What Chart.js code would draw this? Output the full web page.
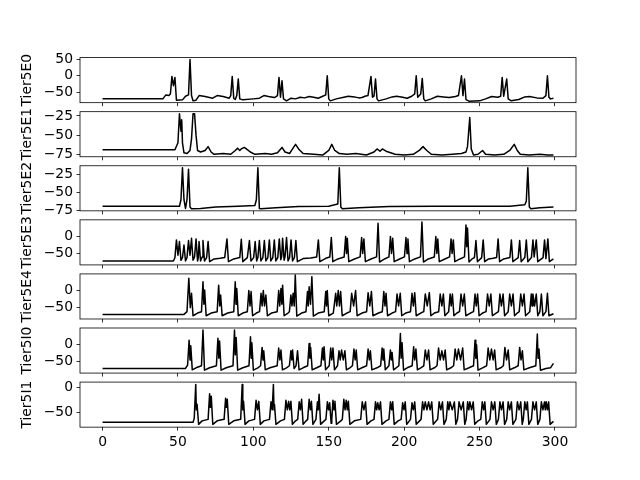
<!DOCTYPE html>
<html><head><meta charset="utf-8">
<script src="https://cdn.jsdelivr.net/npm/chart.js@4"></script>
<style>
html,body{margin:0;padding:0;background:#fff;width:640px;height:480px;overflow:hidden}
canvas{position:absolute;left:0;top:0}
</style></head>
<body>
<div id="wrap"></div>
<script>
// ---------- data ----------
const seriesNames = ["Tier5E0","Tier5E1","Tier5E2","Tier5E3","Tier5E4","Tier5I0","Tier5I1"];
const xTicks = [0,50,100,150,200,250,300];
const yTicksE0 = [-50,0,50];
const yTicksE1 = [-75,-50,-25];
const yTicksE2 = [-75,-50,-25];
const yTicksE3 = [-50,0];
const yTicksE4 = [-50,0];
const yTicksI0 = [-50,0];
const yTicksI1 = [-50,0];
const yLimE0 = [-81.5,55];
const yLimE1 = [-78.2,-19.4];
const yLimE2 = [-75.3,-13.2];
const yLimE3 = [-83.5,49];
const yLimE4 = [-83.5,49];
const yLimI0 = [-83.5,49];
const yLimI1 = [-79.6,10.6];

const tier5E0 = [[0,-70],[40,-70],[42,-58],[44,-60],[45,-55],[46,-2],[47,-30],[48,-5],[49,-74],[53,-73],[55,-62],[57,-58],[58,49],[59,-60],[60,-76],[62,-74],[64,-60],[68,-63],[73,-68],[76,-60],[80,-63],[84,-68],[85,-60],[86,-2],[87,-68],[88,-72],[89,-60],[90,-10],[91,-70],[93,-73],[100,-70],[104,-68],[107,-60],[110,-63],[114,-66],[116,-60],[117,-5],[118,-65],[119,-15],[120,-70],[122,-76],[125,-68],[128,-70],[131,-65],[134,-67],[137,-63],[140,-65],[143,-68],[146,-62],[148,-58],[149,0],[150,-70],[151,-76],[155,-70],[160,-65],[163,-62],[167,-64],[170,-67],[172,-66],[174,-62],[176,-60],[178,-2],[179,-65],[180,-62],[181,-10],[182,-70],[183,-76],[188,-70],[192,-64],[195,-62],[199,-65],[202,-68],[205,-62],[207,-55],[208,0],[209,-65],[211,-55],[212,-8],[213,-70],[214,-76],[218,-70],[222,-62],[226,-64],[230,-66],[234,-63],[236,-60],[238,0],[239,-60],[240,-10],[241,-72],[243,-77],[250,-76],[254,-70],[258,-63],[262,-65],[264,-62],[265,-5],[266,-62],[268,-10],[269,-70],[271,-76],[276,-72],[280,-64],[283,-63],[288,-67],[292,-68],[294,-60],[295,0],[296,-65],[297,-70],[299,-68]];

const tier5E1 = [[0,-69],[48,-69],[50,-60],[51,-22],[52,-45],[52.5,-30],[53,-60],[54,-73],[56,-74],[58,-70],[59,-55],[60,-22],[61,-22],[62,-50],[63,-70],[65,-72],[68,-70],[70,-65],[72,-72],[74,-75],[80,-74],[85,-75],[88,-70],[89.5,-67],[91,-70],[92,-68],[94,-66],[96,-69],[98,-72],[101,-75],[108,-74],[112,-75],[116,-73],[119,-66],[121,-72],[124,-74],[126,-68],[128,-62],[130,-68],[133,-74],[140,-75],[146,-76],[150,-70],[152,-62],[154,-70],[157,-74],[162,-75],[168,-74],[175,-76],[180,-72],[182,-68],[184,-71],[185.5,-68],[188,-71],[194,-75],[200,-76],[206,-75],[210,-70],[212.5,-65],[215,-70],[218,-75],[225,-76],[232,-75],[238,-74],[241,-72],[242,-65],[243.5,-27],[244.5,-68],[246,-76],[249,-75],[252,-70],[254,-75],[260,-76],[266,-75],[270,-70],[273,-62],[275,-70],[277,-75],[283,-76],[290,-75],[295,-76],[299,-76]];

const tier5E2 = [[0,-69],[51,-69],[52,-60],[53,-16],[54,-60],[55,-72],[56,-60],[57,-18],[58,-70],[59,-72.5],[65,-72],[75,-70],[90,-69],[101,-68],[102,-60],[103,-16],[104,-72],[105,-72.5],[115,-71],[130,-69.5],[150,-69],[156,-66],[157,-16],[158,-70],[159,-72.5],[170,-71],[190,-69.5],[220,-69],[270,-69],[280,-67],[281,-62],[282,-16],[283,-70],[284,-72.5],[290,-71],[299,-70]];

const tier5E3 = [[0,-72],[47,-72],[48,-62],[49,-10],[50,-55],[51,-15],[52,-70],[53,-62],[54,-25],[55,-72],[56,-62],[57,-12],[58,-55],[59,-5],[60,-70],[61,-60],[62,-7],[63,-72],[63.5,-62],[64,-15],[65,-72],[66,-60],[66.6,-12],[67.6,-72],[69,-62],[70,-15],[71,-74],[74,-66],[78,-64],[81,-62],[82.5,-7],[83.5,-74],[87,-66],[91,-62],[92,-8],[93,-74],[96,-62],[97.4,-12],[98.4,-72],[100.2,-62],[101.2,-15],[102.2,-72],[103,-62],[104,-12],[105,-72],[106.3,-62],[107.3,-12],[108.3,-72],[109.6,-62],[110.6,-10],[111.6,-72],[112.9,-62],[113.9,-10],[114.9,-72],[116.2,-62],[117.2,-7],[118.2,-68],[118.8,-58],[119.4,-5],[120.4,-70],[121,-60],[122,-3],[123,-72],[124,-62],[125,-10],[126,-72],[127.2,-62],[128.2,-12],[129.2,-74],[133,-65],[138,-63],[142,-60],[143.1,-10],[144.1,-74],[148,-64],[150.7,-60],[151.7,-3],[152.7,-74],[156,-66],[160.2,-60],[161.2,0],[161.8,-50],[162.3,-5],[163.3,-74],[167,-66],[170.8,-60],[171.8,-3],[172.5,-50],[173.3,-7],[174.3,-74],[178,-66],[181.7,-60],[182.7,39],[183.7,-75],[187,-66],[189.9,-60],[190.9,0],[191.6,-50],[192.4,-5],[193.4,-74],[197,-66],[200.2,-60],[201.2,-3],[201.9,-50],[202.5,-7],[203.5,-74],[207,-66],[210.8,-60],[211.8,43],[212.8,-75],[216,-66],[220,-60],[221,0],[221.7,-50],[222.3,-7],[223.3,-74],[227,-66],[230.1,-60],[231.1,-7],[231.8,-50],[232.6,-10],[233.6,-74],[237,-66],[240,-60],[241,34],[241.5,-30],[242,25],[243,-75],[245,-66],[246.6,-62],[247.6,-12],[248.6,-74],[251.4,-62],[252.4,-10],[253.4,-74],[256,-66],[259,-64],[261.3,-62],[262.3,-7],[263.3,-74],[266,-66],[270.1,-62],[271.1,-10],[272.1,-74],[275.6,-62],[276.6,-12],[277.6,-74],[280,-62],[281,-10],[282,-74],[284.4,-62],[285.4,-10],[286.2,-60],[287.6,-10],[288.6,-74],[292.1,-62],[293.1,-10],[294,-65],[295.3,-7],[296.3,-74],[299,-66]];

const tier5E4 = [[0,-70],[54,-70],[56,-62],[57.2,36],[58.2,-50],[59,-8],[60,-74],[63,-66],[65.6,-62],[66.6,26],[67.2,-40],[67.7,1.5],[68.7,-74],[72,-66],[76,-62],[77,16],[77.7,-45],[78.3,-13],[79.3,-74],[83,-66],[87,-62],[88,26],[88.5,-40],[89,6],[90,-74],[93,-66],[96,-62],[97,0],[97.8,-45],[98.5,-3],[99.5,-74],[102,-66],[104.1,-62],[105.1,-8],[105.8,-45],[106.6,0],[107.4,-45],[108.3,-13],[109.3,-74],[112,-66],[115.8,-62],[116.8,0],[117.5,-45],[118.3,6],[118.9,-40],[119.4,16],[120.4,-74],[123,-66],[123.9,-62],[124.9,-13],[125.6,-45],[126.4,-8],[127.1,-45],[127.8,46],[128.8,-75],[132,-66],[134.9,-62],[135.9,-3],[136.4,-45],[137,11],[137.9,-40],[138.8,41],[139.8,-75],[143,-66],[147,-62],[148,-3],[148.5,-45],[149,0],[150,-74],[153,-66],[154.6,-8],[155.3,-45],[156.3,0],[157.1,-45],[157.9,-3],[158.9,-74],[162,-66],[164.2,-62],[165.2,-8],[166.5,-45],[167.8,0],[168.8,-74],[172,-66],[175.1,-62],[176.1,-6],[177.2,-45],[178.3,-3],[179.3,-74],[183,-66],[185.5,-62],[186.5,-3],[187.3,-45],[188,-8],[189,-74],[192,-66],[194.3,-62],[195.3,-10],[196.3,-45],[197.4,-8],[198.4,-74],[201,-66],[204.2,-62],[205.2,-8],[206.1,-45],[207,-6],[208,-74],[211,-66],[213,-62],[214,-10],[215.3,-45],[216.7,-6],[217.7,-74],[220,-66],[222.9,-62],[223.9,-10],[225,-45],[226,-10],[227,-74],[229.5,-62],[230.5,-10],[231.2,-45],[232,-10],[233,-74],[235,-66],[236.7,-62],[237.7,-10],[238.8,-45],[239.9,-10],[240.9,-74],[244,-66],[246,-62],[247,-10],[247.8,-45],[248.7,-10],[249.7,-74],[252,-66],[254.3,-62],[255.3,-10],[256.4,-45],[257.5,-10],[258.5,-74],[261,-66],[262.5,-62],[263.5,-10],[264.5,-45],[265.6,-10],[266.6,-74],[269,-62],[270,-10],[271.1,-45],[272.2,-10],[273.2,-74],[275,-66],[276.3,-62],[277.3,-10],[278.4,-45],[279.5,-10],[280.5,-74],[283.3,-62],[284.3,-10],[284.8,-45],[285.4,-10],[286.5,-45],[287.6,-10],[288.6,-74],[290,-62],[291,-10],[292,-74],[294,-62],[295,-8],[296,-74],[299,-68]];

const tier5I0 = [[0,-70],[55,-70],[56.4,-60],[57.4,13],[58,-45],[58.5,-3.5],[59.5,-74],[62,-68],[65.6,-62],[66.6,43],[67.6,-75],[71,-68],[75.5,-62],[76.5,19],[77.1,-40],[77.6,11],[78.6,-75],[82,-68],[86.5,-62],[87.5,43],[88,-30],[88.6,21],[89.6,-75],[93,-68],[97.1,-62],[98.1,23],[98.6,-40],[99,6],[100,-75],[103,-68],[104.8,-62],[105.8,-8],[106.4,-45],[106.9,-18],[107.9,-74],[111,-68],[115.8,-62],[116.8,-10],[117.6,-45],[118.3,-16],[119.3,-74],[122,-68],[123.9,-62],[124.9,-18],[125.5,-45],[126,-16],[127,-70],[128.3,-62],[129.3,-18],[130.3,-74],[133,-68],[136,-62],[137,3.5],[137.5,-40],[138,-8],[139,-74],[142,-68],[144.8,-62],[145.8,-10],[146.4,-45],[146.9,-6],[147.9,-74],[150.3,-62],[151.3,-10],[152,-45],[152.8,-10],[153.8,-74],[155.8,-62],[156.8,-18],[157.6,-45],[158.5,-16],[159.6,-45],[160.7,-18],[161.7,-74],[164,-68],[165.7,-62],[166.7,-13],[167.5,-45],[168.2,-16],[169.2,-74],[172,-68],[175.1,-62],[176.1,-13],[176.9,-45],[177.6,-18],[178.6,-74],[182,-68],[184.4,-62],[185.4,-10],[186,-45],[186.5,-13],[187.5,-74],[189.9,-62],[190.9,-16],[191.5,-45],[192,-23],[193,-74],[196.5,-62],[197.5,33],[198,-40],[198.6,6],[199.6,-75],[202,-68],[205.3,-62],[206.3,-6],[207,-45],[207.8,-13],[208.8,-74],[211,-68],[213,-62],[214,-16],[215.1,-45],[216.2,-16],[217.2,-74],[220,-68],[221.8,-62],[222.8,-10],[223.9,-45],[225,-18],[226.1,-45],[227.2,-16],[228.2,-74],[231,-68],[232.8,-62],[233.8,-13],[234.9,-45],[236,-13],[237.4,-45],[238.8,-10],[239.8,-74],[243,-68],[246,-62],[247,13],[247.5,-40],[248,-0.5],[249,-75],[252,-68],[254.7,-62],[255.7,-10],[256.8,-45],[257.9,-13],[259,-45],[260,-16],[261,-74],[264,-68],[265.8,-62],[266.8,-8],[267.9,-45],[269,-16],[270,-74],[273,-68],[275.6,-62],[276.6,-8],[277.5,-45],[278.4,-18],[279.4,-74],[283,-68],[287.3,-62],[288.3,31],[288.8,-40],[289.4,-13],[290.4,-75],[294,-70],[297,-68],[299,-55]];

const tier5I1 = [[0,-70],[60,-70],[60.8,-62],[61.8,6],[62.2,-45],[62.7,-34],[63.7,-74],[66,-67],[70,-64],[71,-13],[71.5,-40],[72.1,-18],[73.1,-74],[76,-67],[80.6,-64],[81.6,-22],[82.1,-40],[82.7,-24],[83.7,-74],[87,-67],[91.6,-64],[92.6,6],[93,-45],[93.5,-28],[94.5,-74],[97,-67],[100.8,-64],[101.8,-26],[102.7,-45],[103.6,-28],[104.6,-74],[107,-67],[110.7,-64],[111.7,-29],[112.5,-45],[113.3,6],[113.7,-45],[114,-34],[115,-74],[118,-67],[120.6,-64],[121.6,-26],[122.5,-45],[123.4,-28],[124.1,-45],[124.9,-28],[125.9,-74],[128,-67],[129.4,-64],[130.4,-29],[131.2,-45],[132,-24],[133,-74],[135,-67],[136,-64],[137,-24],[137.8,-45],[138.5,-28],[139.5,-74],[141.5,-64],[142.5,-29],[143,-45],[143.6,-14],[144.6,-74],[147,-67],[148.1,-64],[149.1,-29],[149.9,-45],[150.6,-31],[151.6,-72],[152,-64],[152.8,-26],[153.5,-45],[154.1,-28],[155.1,-74],[158,-67],[159,-64],[160,-24],[160.8,-45],[161.6,-26],[162.3,-45],[163,-28],[164,-74],[167,-67],[171.2,-64],[172.2,-29],[173.3,-45],[174.4,-29],[175.4,-74],[178,-67],[180,-64],[181,-29],[181.8,-45],[182.5,-31],[183.4,-45],[184.3,-29],[185.3,-74],[188,-67],[189.9,-64],[190.9,-29],[191.7,-45],[192.4,-29],[193.4,-74],[196,-67],[198,-64],[199,-31],[199.9,-45],[200.7,-29],[201.7,-74],[204.2,-64],[205.2,-31],[206.1,-45],[207,-29],[208,-74],[211.2,-64],[212.2,-29],[213.1,-45],[214,-29],[215.1,-45],[216.2,-29],[217.2,-45],[218.3,-29],[219.3,-74],[222.2,-64],[223.2,-29],[224.3,-45],[225.4,-29],[226.4,-74],[227.9,-64],[228.9,-29],[229.7,-45],[230.4,-29],[231.9,-45],[233.3,-29],[234.3,-74],[235.4,-64],[236.4,-29],[237.8,-45],[239.2,-29],[240.2,-74],[241.1,-64],[242.1,-29],[242.9,-45],[243.6,-29],[244.7,-45],[245.8,-29],[246.8,-74],[249,-67],[250.8,-64],[251.8,-29],[252.7,-45],[253.5,-29],[254.5,-74],[256.9,-64],[257.9,-29],[259,-45],[260.1,-29],[261.1,-74],[262.5,-64],[263.5,-29],[264.5,-45],[265.6,-29],[266.6,-74],[268,-64],[269,-29],[270,-45],[271.1,-29],[272.1,-74],[274.1,-64],[275.1,-29],[276.2,-45],[277.3,-29],[278.3,-74],[279,-64],[280,-29],[280.9,-45],[281.7,-29],[282.7,-74],[284.4,-64],[285.4,-29],[286.5,-45],[287.6,-29],[288.6,-74],[290,-64],[291,-29],[292,-45],[293.1,-29],[293.6,-45],[294.2,-29],[295,-45],[295.8,-29],[296.8,-74],[299,-68]];

// ---------- layout ----------
const seriesData = [tier5E0,tier5E1,tier5E2,tier5E3,tier5E4,tier5I0,tier5I1];
const yTickSets = [yTicksE0,yTicksE1,yTicksE2,yTicksE3,yTicksE4,yTicksI0,yTicksI1];
const yLims = [yLimE0,yLimE1,yLimE2,yLimE3,yLimE4,yLimI0,yLimI1];

const W = 640, H = 480;
const AX_TOP = 57.6, AX_H = 45.07, AX_GAP = 9.01;
const FONT = {family: "'DejaVu Sans', sans-serif", size: 13.9};
const fmt = v => String(v).replace('-', '\u2212');

const framePlugin = {
  id: 'frame',
  afterDraw(chart) {
    const a = chart.chartArea, c = chart.ctx;
    c.save();
    c.strokeStyle = '#000';
    c.lineWidth = 0.8;
    c.strokeRect(a.left, a.top, a.right - a.left, a.bottom - a.top);
    c.restore();
  }
};

const wrap = document.getElementById('wrap');
seriesData.forEach((series, i) => {
  const cv = document.createElement('canvas');
  cv.width = W; cv.height = H;
  cv.style.width = W + 'px'; cv.style.height = H + 'px';
  wrap.appendChild(cv);
  const top = AX_TOP + i * (AX_H + AX_GAP);
  const bottom = top + AX_H;
  const isLast = i === seriesData.length - 1;
  const xH = isLast ? 30 : 10;
  const yt = yTickSets[i];
  new Chart(cv, {
    type: 'line',
    data: {
      datasets: [{
        data: series.map(([x, y]) => ({x, y})),
        borderColor: '#000',
        borderWidth: 1.5,
        pointRadius: 0,
        tension: 0,
        fill: false,
        borderJoinStyle: 'round'
      }]
    },
    options: {
      responsive: false,
      animation: false,
      devicePixelRatio: 1,
      parsing: false,
      layout: {padding: {left: 0, right: W - 576, top: top, bottom: H - bottom - xH}},
      plugins: {legend: {display: false}, tooltip: {enabled: false}},
      scales: {
        x: {
          type: 'linear',
          min: -14.95, max: 313.95,
          afterBuildTicks: s => { s.ticks = xTicks.map(v => ({value: v})); },
          afterFit: s => { s.height = xH; },
          grid: {drawOnChartArea: false, drawTicks: true, tickLength: 3.5, tickWidth: 0.8, tickColor: '#000'},
          border: {display: false},
          ticks: {display: isLast, color: '#000', font: FONT, padding: 3.5, maxRotation: 0, autoSkip: false,
                  callback: v => fmt(v)}
        },
        y: {
          type: 'linear',
          min: yLims[i][0], max: yLims[i][1],
          afterBuildTicks: s => { s.ticks = yt.map(v => ({value: v})); },
          afterFit: s => { s.width = 80; },
          grid: {drawOnChartArea: false, drawTicks: true, tickLength: 3.5, tickWidth: 0.8, tickColor: '#000'},
          border: {display: false},
          ticks: {color: '#000', font: FONT, padding: 3.5, autoSkip: false, callback: v => fmt(v)},
          title: {display: true, text: seriesNames[i], color: '#000', font: FONT, padding: {top: 19, bottom: 0}}
        }
      }
    },
    plugins: [framePlugin]
  });
});
</script>
</body></html>
